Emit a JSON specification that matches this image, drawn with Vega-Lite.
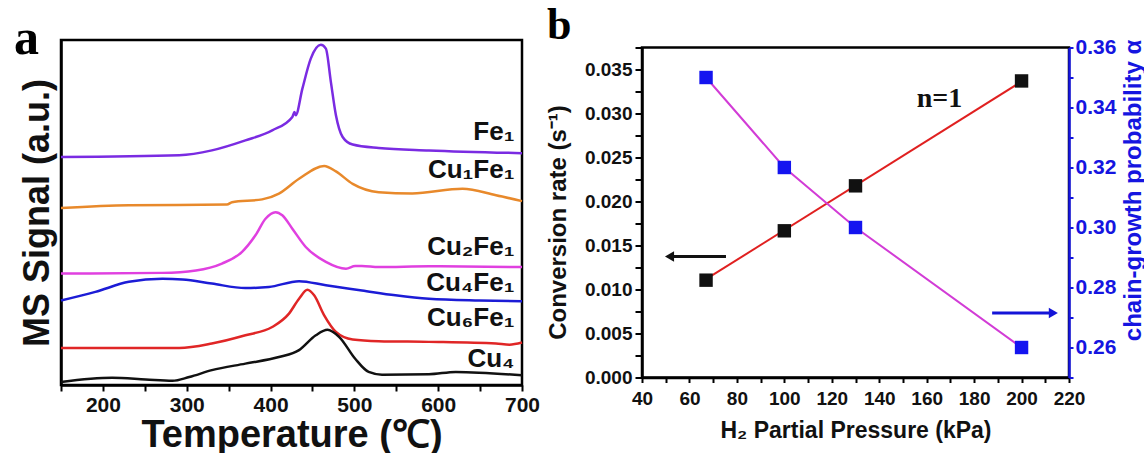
{
  "$schema": "https://vega.github.io/schema/vega-lite/v6.json",
  "autosize": {"type": "pad"},
  "padding": {"left": 12, "top": 2, "right": 0, "bottom": 0},
  "background": "white",
  "bounds": "flush",
  "center": true,
  "spacing": 120,
  "config": {
    "font": "Liberation Sans",
    "view": {"stroke": "black", "strokeWidth": 2.5},
    "axis": {"domainColor": "black", "domainWidth": 2.5, "tickColor": "black", "tickWidth": 2, "labelColor": "#111111", "titleColor": "#111111", "labelFontWeight": "bold", "titleFontWeight": "bold", "grid": false, "labelOverlap": false, "labelBound": false, "labelFlush": false}
  },
  "datasets": {
    "tpr": [
      {"sample": "Fe1", "T": 150, "v": 66.1}, {"sample": "Fe1", "T": 291, "v": 66.6}, {"sample": "Fe1", "T": 330, "v": 68.0}, {"sample": "Fe1", "T": 370, "v": 70.9}, {"sample": "Fe1", "T": 402, "v": 73.8}, {"sample": "Fe1", "T": 426, "v": 77.7}, {"sample": "Fe1", "T": 428.6, "v": 79.1}, {"sample": "Fe1", "T": 430, "v": 78.2}, {"sample": "Fe1", "T": 438, "v": 85.9}, {"sample": "Fe1", "T": 448, "v": 94.6}, {"sample": "Fe1", "T": 460, "v": 98.6}, {"sample": "Fe1", "T": 466, "v": 97.5}, {"sample": "Fe1", "T": 472, "v": 87.8}, {"sample": "Fe1", "T": 478, "v": 78.2}, {"sample": "Fe1", "T": 486, "v": 71.9}, {"sample": "Fe1", "T": 498, "v": 69.7}, {"sample": "Fe1", "T": 529, "v": 68.7}, {"sample": "Fe1", "T": 589, "v": 68.0}, {"sample": "Fe1", "T": 700, "v": 67.2},
      {"sample": "Cu1Fe1", "T": 150, "v": 51.3}, {"sample": "Cu1Fe1", "T": 231, "v": 52.1}, {"sample": "Cu1Fe1", "T": 348, "v": 52.3}, {"sample": "Cu1Fe1", "T": 354, "v": 53.0}, {"sample": "Cu1Fe1", "T": 390, "v": 53.8}, {"sample": "Cu1Fe1", "T": 410, "v": 55.5}, {"sample": "Cu1Fe1", "T": 434, "v": 59.8}, {"sample": "Cu1Fe1", "T": 464, "v": 63.5}, {"sample": "Cu1Fe1", "T": 478, "v": 61.9}, {"sample": "Cu1Fe1", "T": 498, "v": 58.3}, {"sample": "Cu1Fe1", "T": 529, "v": 55.9}, {"sample": "Cu1Fe1", "T": 569, "v": 55.5}, {"sample": "Cu1Fe1", "T": 629, "v": 56.9}, {"sample": "Cu1Fe1", "T": 669, "v": 55.0}, {"sample": "Cu1Fe1", "T": 700, "v": 53.3},
      {"sample": "Cu2Fe1", "T": 150, "v": 32.3}, {"sample": "Cu2Fe1", "T": 271, "v": 32.5}, {"sample": "Cu2Fe1", "T": 311, "v": 33.2}, {"sample": "Cu2Fe1", "T": 342, "v": 35.2}, {"sample": "Cu2Fe1", "T": 366, "v": 38.6}, {"sample": "Cu2Fe1", "T": 382, "v": 43.4}, {"sample": "Cu2Fe1", "T": 394, "v": 48.2}, {"sample": "Cu2Fe1", "T": 406, "v": 50.1}, {"sample": "Cu2Fe1", "T": 414, "v": 49.2}, {"sample": "Cu2Fe1", "T": 426, "v": 45.3}, {"sample": "Cu2Fe1", "T": 442, "v": 40.0}, {"sample": "Cu2Fe1", "T": 466, "v": 35.7}, {"sample": "Cu2Fe1", "T": 490, "v": 33.7}, {"sample": "Cu2Fe1", "T": 501, "v": 34.5}, {"sample": "Cu2Fe1", "T": 509, "v": 34.5}, {"sample": "Cu2Fe1", "T": 529, "v": 34.2}, {"sample": "Cu2Fe1", "T": 589, "v": 34.4}, {"sample": "Cu2Fe1", "T": 700, "v": 34.2},
      {"sample": "Cu4Fe1", "T": 150, "v": 24.5}, {"sample": "Cu4Fe1", "T": 191, "v": 27.0}, {"sample": "Cu4Fe1", "T": 231, "v": 29.9}, {"sample": "Cu4Fe1", "T": 271, "v": 30.8}, {"sample": "Cu4Fe1", "T": 295, "v": 30.6}, {"sample": "Cu4Fe1", "T": 330, "v": 29.4}, {"sample": "Cu4Fe1", "T": 370, "v": 28.1}, {"sample": "Cu4Fe1", "T": 398, "v": 28.4}, {"sample": "Cu4Fe1", "T": 434, "v": 30.1}, {"sample": "Cu4Fe1", "T": 466, "v": 28.9}, {"sample": "Cu4Fe1", "T": 509, "v": 27.4}, {"sample": "Cu4Fe1", "T": 549, "v": 26.0}, {"sample": "Cu4Fe1", "T": 589, "v": 25.0}, {"sample": "Cu4Fe1", "T": 649, "v": 24.5}, {"sample": "Cu4Fe1", "T": 700, "v": 24.3},
      {"sample": "Cu6Fe1", "T": 150, "v": 10.7}, {"sample": "Cu6Fe1", "T": 291, "v": 10.7}, {"sample": "Cu6Fe1", "T": 330, "v": 12.0}, {"sample": "Cu6Fe1", "T": 370, "v": 14.4}, {"sample": "Cu6Fe1", "T": 402, "v": 16.8}, {"sample": "Cu6Fe1", "T": 422, "v": 20.7}, {"sample": "Cu6Fe1", "T": 434, "v": 25.0}, {"sample": "Cu6Fe1", "T": 444, "v": 27.6}, {"sample": "Cu6Fe1", "T": 452, "v": 26.0}, {"sample": "Cu6Fe1", "T": 464, "v": 20.2}, {"sample": "Cu6Fe1", "T": 478, "v": 15.4}, {"sample": "Cu6Fe1", "T": 498, "v": 13.2}, {"sample": "Cu6Fe1", "T": 529, "v": 12.7}, {"sample": "Cu6Fe1", "T": 589, "v": 12.5}, {"sample": "Cu6Fe1", "T": 669, "v": 12.0}, {"sample": "Cu6Fe1", "T": 685, "v": 11.7}, {"sample": "Cu6Fe1", "T": 700, "v": 12.3},
      {"sample": "Cu4", "T": 150, "v": 0.9}, {"sample": "Cu4", "T": 211, "v": 2.1}, {"sample": "Cu4", "T": 251, "v": 1.6}, {"sample": "Cu4", "T": 283, "v": 1.2}, {"sample": "Cu4", "T": 303, "v": 2.3}, {"sample": "Cu4", "T": 330, "v": 4.3}, {"sample": "Cu4", "T": 370, "v": 6.2}, {"sample": "Cu4", "T": 410, "v": 8.1}, {"sample": "Cu4", "T": 434, "v": 10.1}, {"sample": "Cu4", "T": 454, "v": 14.4}, {"sample": "Cu4", "T": 468, "v": 16.0}, {"sample": "Cu4", "T": 482, "v": 13.9}, {"sample": "Cu4", "T": 501, "v": 7.6}, {"sample": "Cu4", "T": 517, "v": 3.8}, {"sample": "Cu4", "T": 533, "v": 3.0}, {"sample": "Cu4", "T": 589, "v": 3.1}, {"sample": "Cu4", "T": 621, "v": 3.8}, {"sample": "Cu4", "T": 700, "v": 2.8}
    ],
    "labels": [
      {"label": "Fe₁", "T": 691, "v": 70.9},
      {"label": "Cu₁Fe₁", "T": 691, "v": 59.9},
      {"label": "Cu₂Fe₁", "T": 691, "v": 37.6},
      {"label": "Cu₄Fe₁", "T": 691, "v": 27.2},
      {"label": "Cu₆Fe₁", "T": 691, "v": 17.1},
      {"label": "Cu₄", "T": 691, "v": 5.2}
    ],
    "letterA": [{"T": 93.9, "v": 95.9, "t": "a"}],
    "letterB": [{"P": 0, "rate": 0.03846, "t": "b"}],
    "fit": [{"P": 67, "rate": 0.01117}, {"P": 200, "rate": 0.03364}],
    "rate": [{"P": 67, "rate": 0.01106}, {"P": 100, "rate": 0.01667}, {"P": 130, "rate": 0.02178}, {"P": 200, "rate": 0.0337}],
    "arrowL": [{"P": 75.4, "P2": 53, "rate": 0.01375}],
    "headL": [{"P": 51.6, "rate": 0.01375}],
    "ann": [{"P": 165.4, "rate": 0.0316, "t": "n=1"}],
    "alpha": [{"P": 67, "alpha": 0.35}, {"P": 100, "alpha": 0.32}, {"P": 130, "alpha": 0.30}, {"P": 200, "alpha": 0.26}],
    "arrowR": [{"P": 187.6, "P2": 212, "alpha": 0.2715}],
    "headR": [{"P": 213.4, "alpha": 0.2715}]
  },
  "hconcat": [
    {
      "width": 461,
      "height": 345,
      "layer": [
        {
          "data": {"name": "tpr"},
          "mark": {"type": "line", "interpolate": "monotone"},
          "encoding": {
            "x": {"field": "T", "type": "quantitative", "scale": {"domain": [150, 700], "nice": false},
              "axis": {"values": [150, 200, 250, 300, 350, 400, 450, 500, 550, 600, 650, 700], "labelExpr": "datum.value % 100 === 0 ? datum.label : ''", "tickSize": 6, "labelPadding": 3, "labelFontSize": 21, "title": "Temperature (℃)", "titleFontSize": 38, "titlePadding": 1}},
            "y": {"field": "v", "type": "quantitative", "scale": {"domain": [0, 100], "nice": false},
              "axis": {"title": "MS Signal (a.u.)", "ticks": false, "labels": false, "titleFontSize": 36, "titlePadding": 5}},
            "color": {"field": "sample", "type": "nominal", "legend": null,
              "scale": {"domain": ["Fe1", "Cu1Fe1", "Cu2Fe1", "Cu4Fe1", "Cu6Fe1", "Cu4"], "range": ["#7A2BE2", "#E8892B", "#E040E0", "#1C1CD6", "#E02626", "#111111"]}},
            "strokeWidth": {"field": "sample", "type": "nominal", "legend": null,
              "scale": {"domain": ["Fe1", "Cu1Fe1", "Cu2Fe1", "Cu4Fe1", "Cu6Fe1", "Cu4"], "range": [2.5, 2.5, 2.5, 3.5, 2.5, 2]}}
          }
        },
        {
          "data": {"name": "labels"},
          "mark": {"type": "text", "align": "right", "baseline": "alphabetic", "fontSize": 26, "fontWeight": "bold", "color": "#111111"},
          "encoding": {
            "x": {"field": "T", "type": "quantitative"},
            "y": {"field": "v", "type": "quantitative"},
            "text": {"field": "label"}
          }
        },
        {
          "data": {"name": "letterA"},
          "mark": {"type": "text", "align": "left", "baseline": "alphabetic", "font": "Liberation Serif", "fontSize": 50, "fontWeight": "bold", "color": "black"},
          "encoding": {
            "x": {"field": "T", "type": "quantitative"},
            "y": {"field": "v", "type": "quantitative"},
            "text": {"field": "t"}
          }
        }
      ]
    },
    {
      "width": 427,
      "height": 330,
      "encoding": {
        "x": {"field": "P", "type": "quantitative", "scale": {"domain": [40, 220], "nice": false},
          "axis": {"values": [40, 50, 60, 70, 80, 90, 100, 110, 120, 130, 140, 150, 160, 170, 180, 190, 200, 210, 220], "labelExpr": "datum.value % 20 === 0 ? datum.label : ''", "tickSize": 5, "labelPadding": 7, "labelFontSize": 19, "title": "H₂ Partial Pressure (kPa)", "titleFontSize": 23, "titlePadding": 11}}
      },
      "layer": [
        {
          "encoding": {
            "y": {"field": "rate", "type": "quantitative", "scale": {"domain": [0, 0.0375], "nice": false, "zero": false},
              "axis": {"orient": "left", "values": [0, 0.0025, 0.005, 0.0075, 0.01, 0.0125, 0.015, 0.0175, 0.02, 0.0225, 0.025, 0.0275, 0.03, 0.0325, 0.035, 0.0375], "labelExpr": "round(datum.value*10000) % 50 === 0 ? format(datum.value, '.3f') : ''", "tickSize": 7, "labelPadding": 3, "labelFontSize": 19, "title": "Conversion rate (s⁻¹)", "titleFontSize": 24, "titlePadding": 14, "titleY": 174.5}}
          },
          "layer": [
            {"data": {"name": "fit"}, "mark": {"type": "line", "color": "#E02020", "strokeWidth": 2}},
            {"data": {"name": "rate"}, "mark": {"type": "square", "size": 180, "filled": true, "color": "#111111", "opacity": 1}},
            {"data": {"name": "arrowL"}, "mark": {"type": "rule", "color": "#111111", "strokeWidth": 3}, "encoding": {"x2": {"field": "P2"}}},
            {"data": {"name": "headL"}, "mark": {"type": "point", "shape": "triangle-left", "size": 110, "filled": true, "color": "#111111", "opacity": 1}},
            {"data": {"name": "ann"}, "mark": {"type": "text", "font": "Liberation Serif", "fontSize": 28, "fontWeight": "bold", "color": "#111111", "align": "center", "baseline": "middle"}, "encoding": {"text": {"field": "t"}}},
            {"data": {"name": "letterB"}, "mark": {"type": "text", "font": "Liberation Serif", "fontSize": 44, "fontWeight": "bold", "color": "black", "align": "left", "baseline": "alphabetic"}, "encoding": {"text": {"field": "t"}}}
          ]
        },
        {
          "encoding": {
            "y": {"field": "alpha", "type": "quantitative", "scale": {"domain": [0.25, 0.36], "nice": false, "zero": false},
              "axis": {"orient": "right", "values": [0.25, 0.26, 0.27, 0.28, 0.29, 0.30, 0.31, 0.32, 0.33, 0.34, 0.35, 0.36], "labelExpr": "round(datum.value*100) % 2 === 0 ? format(datum.value, '.2f') : ''", "tickSize": 4, "labelPadding": 2, "labelFontSize": 21, "domainColor": "#1515E0", "tickColor": "#1515E0", "labelColor": "#1515E0", "titleColor": "#1515E0", "title": "chain-growth probability α", "titleFontSize": 24, "titleAngle": -90, "titleBaseline": "top", "titlePadding": 6, "titleY": 142.5}}
          },
          "layer": [
            {"data": {"name": "alpha"}, "mark": {"type": "line", "color": "#D23CD6", "strokeWidth": 2}},
            {"data": {"name": "alpha"}, "mark": {"type": "square", "size": 180, "filled": true, "color": "#1414F0", "opacity": 1}},
            {"data": {"name": "arrowR"}, "mark": {"type": "rule", "color": "#1414D8", "strokeWidth": 3}, "encoding": {"x2": {"field": "P2"}}},
            {"data": {"name": "headR"}, "mark": {"type": "point", "shape": "triangle-right", "size": 110, "filled": true, "color": "#1414D8", "opacity": 1}}
          ]
        }
      ],
      "resolve": {"scale": {"y": "independent"}}
    }
  ]
}
